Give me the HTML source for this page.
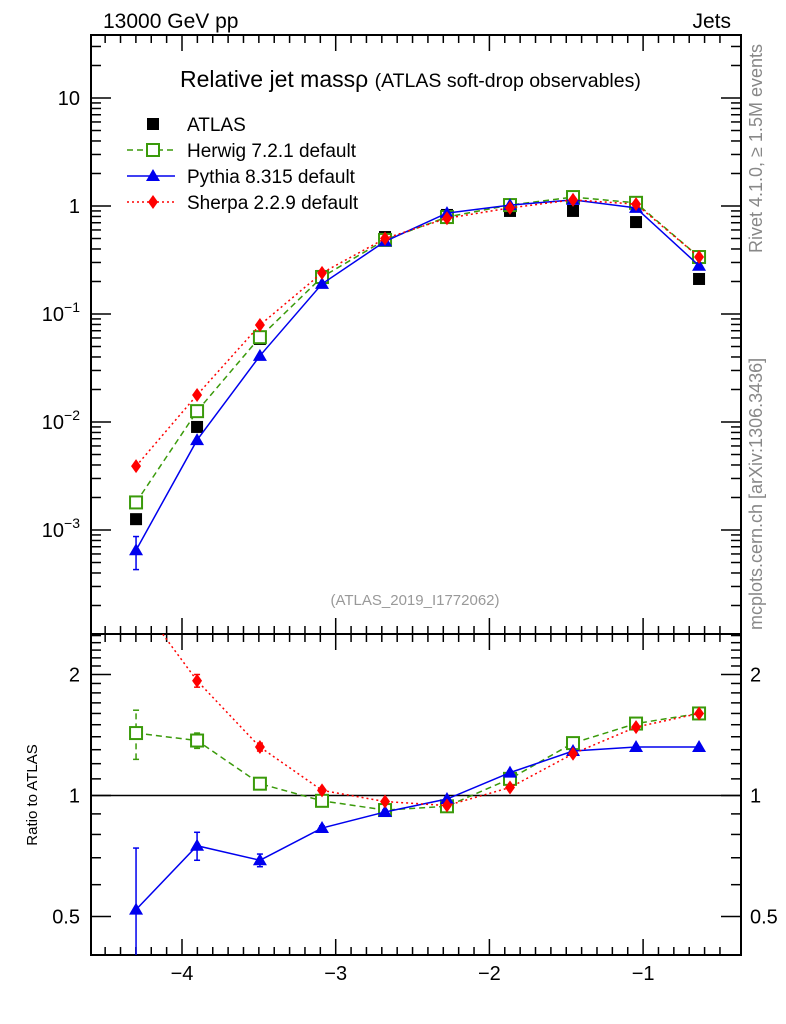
<!DOCTYPE html>
<html><head><meta charset="utf-8"><style>
html,body{margin:0;padding:0;background:#fff;}
svg{display:block;font-family:"Liberation Sans",sans-serif;}
</style></head><body>
<svg id="chart" width="786" height="1024" viewBox="0 0 786 1024">
<text x="103" y="28" font-size="21">13000 GeV pp</text>
<text x="731" y="28" font-size="21" text-anchor="end">Jets</text>
<text x="180" y="87" font-size="23">Relative jet massρ <tspan font-size="19.5">(ATLAS soft-drop observables)</tspan></text>
<text x="415" y="605" font-size="15" fill="#999" text-anchor="middle">(ATLAS_2019_I1772062)</text>
<text transform="translate(762,253) rotate(-90)" font-size="18" fill="#888">Rivet 4.1.0, ≥ 1.5M events</text>
<text transform="translate(762,630) rotate(-90)" font-size="18" fill="#888">mcplots.cern.ch [arXiv:1306.3436]</text>
<text transform="translate(37,795) rotate(-90)" font-size="15" text-anchor="middle">Ratio to ATLAS</text>
<g id="axes"></g>
<g id="marks"></g>
<g id="legend"></g>
</svg>
<script>
const xs = [-4.299,-3.902,-3.493,-3.089,-2.679,-2.276,-1.866,-1.456,-1.046,-0.636];
const atlas = [1.26e-3,0.009,0.0587,0.225,0.516,0.826,0.9,0.9,0.71,0.211];
const herwig = [1.8e-3,0.0126,0.061,0.22,0.485,0.79,1.02,1.21,1.07,0.337];
const pythia = [6.5e-4,0.0068,0.041,0.19,0.47,0.86,1.02,1.14,0.96,0.28];
const sherpa = [3.9e-3,0.0178,0.079,0.24,0.5,0.77,0.96,1.14,1.04,0.337];
const herwigRatio = [1.43,1.37,1.07,0.97,0.92,0.94,1.10,1.35,1.51,1.60];
const pythiaRatio = [0.52,0.75,0.69,0.83,0.91,0.98,1.14,1.29,1.32,1.32];
const sherpaRatio = [3.1,1.93,1.32,1.03,0.966,0.944,1.047,1.27,1.48,1.60];
const pythiaRatioErr = [0.22,0.06,0.025,0.01,0.01,0.01,0.01,0.01,0.01,0.01];
const herwigRatioErr = [0.2,0.06,0.02,0.01,0.01,0.01,0.01,0.01,0.01,0.01];
const sherpaRatioErr = [0.1,0.07,0.03,0.01,0.01,0.01,0.01,0.01,0.01,0.01];
const xTicks = [-4,-3,-2,-1];
const xTickLabels = ["−4","−3","−2","−1"];
const mainYTicks = [-3,-2,-1,0,1];
const ratioTicks = [0.5,1,2];

const NS="http://www.w3.org/2000/svg";
const L=91,R=741,T=35,MB=634,RT=634,RB=955;
const X=v=>182+(v+4)*153.7;
const Y=v=>206-Math.log10(v)*108;
const YR=v=>795.5-Math.log2(v)*121;
function el(tag,attrs,parent){const e=document.createElementNS(NS,tag);for(const k in attrs)e.setAttribute(k,attrs[k]);parent.appendChild(e);return e;}
const axes=document.getElementById('axes'),marks=document.getElementById('marks'),leg=document.getElementById('legend');

const defs=el('defs',{},axes);
const c1=el('clipPath',{id:'cm'},defs);el('rect',{x:L,y:T,width:R-L,height:MB-T},c1);
const c2=el('clipPath',{id:'cr'},defs);el('rect',{x:L,y:RT,width:R-L,height:RB-RT},c2);

let f=el('rect',{x:L,y:T,width:R-L,height:MB-T,fill:'none',stroke:'#000','stroke-width':2},axes);


f=el('rect',{x:L,y:RT,width:R-L,height:RB-RT,fill:'none',stroke:'#000','stroke-width':2},axes);



for(let v=-4.6;v<=-0.4;v+=0.1){const x=X(v);if(x<L||x>R)continue;const major=Math.abs(v-Math.round(v))<1e-6;const len=major?16:8;
 for(const [y0,dir] of [[T,1],[MB,-1],[RT,1],[RB,-1]]){el('line',{x1:x,y1:y0,x2:x,y2:y0+dir*len,stroke:'#000','stroke-width':1.5},axes);}}
xTicks.forEach((v,i)=>{const t=el('text',{x:X(v),y:980,'font-size':20,'text-anchor':'middle'},axes);t.textContent=xTickLabels[i];
 
 });

for(let d=-4;d<=1;d++){for(let m=1;m<10;m++){const y=Y(m*Math.pow(10,d));if(y<T||y>MB)continue;const len=m==1?20:10;
 el('line',{x1:L,y1:y,x2:L+len,y2:y,stroke:'#000','stroke-width':1.5},axes);el('line',{x1:R,y1:y,x2:R-len,y2:y,stroke:'#000','stroke-width':1.5},axes);}}
mainYTicks.forEach(d=>{const y=Y(Math.pow(10,d));const t=el('text',{x:80,y:y+7,'font-size':20,'text-anchor':'end'},axes);
 if(d==0)t.textContent='1';else if(d==1)t.textContent='10';else{t.textContent='10';const s=el('tspan',{dy:-9,'font-size':14},t);s.textContent=String(d).replace('-','−');}
 
 });

for(let v=0.4;v<=2.6;v+=0.1){const y=YR(v);if(y<RT||y>RB)continue;const major=[0.5,1,2].some(m=>Math.abs(m-v)<1e-6);const len=major?20:10;
 el('line',{x1:L,y1:y,x2:L+len,y2:y,stroke:'#000','stroke-width':1.5},axes);el('line',{x1:R,y1:y,x2:R-len,y2:y,stroke:'#000','stroke-width':1.5},axes);}
ratioTicks.forEach(v=>{for(const [x,a] of [[80,'end'],[750,'start']]){const t=el('text',{x:x,y:YR(v)+7,'font-size':20,'text-anchor':a},axes);t.textContent=String(v);
 
 }});
el('line',{x1:L,y1:YR(1),x2:R,y2:YR(1),stroke:'#000','stroke-width':1.5},axes);

const styles={herwig:{c:'#3a9a0a',d:'6,4',m:'sq'},pythia:{c:'#0000ee',d:'',m:'tri'},sherpa:{c:'#ff0000',d:'2,3',m:'dia'}};
function marker(g,type,x,y,c){
 if(type=='sq')return el('rect',{x:x-6,y:y-6,width:12,height:12,fill:'#fff',stroke:c,'stroke-width':2},g);
 if(type=='tri')return el('polygon',{points:`${x},${y-7} ${x-7},${y+5} ${x+7},${y+5}`,fill:c},g);
 if(type=='dia')return el('polygon',{points:`${x},${y-7} ${x-5},${y} ${x},${y+7} ${x+5},${y}`,fill:c},g);
 if(type=='box')return el('rect',{x:x-6,y:y-6,width:12,height:12,fill:c},g);
}
function series(name,vals,yf,clip,errs){
 const s=styles[name];const g=el('g',{'clip-path':`url(#${clip})`},marks);
 
 
 el('polyline',{points:xs.map((x,i)=>X(x)+','+yf(vals[i])).join(' '),fill:'none',stroke:s.c,'stroke-width':1.5,'stroke-dasharray':s.d},g);
 xs.forEach((x,i)=>{if(errs){const y1=yf(vals[i]-errs[i]),y2=yf(vals[i]+errs[i]);
   el('line',{x1:X(x),y1:y1,x2:X(x),y2:y2,stroke:s.c,'stroke-width':1.5,'stroke-dasharray':s.d},g);
   el('line',{x1:X(x)-3,y1:y1,x2:X(x)+3,y2:y1,stroke:s.c,'stroke-width':1.5},g);el('line',{x1:X(x)-3,y1:y2,x2:X(x)+3,y2:y2,stroke:s.c,'stroke-width':1.5},g);}
  const m=marker(g,s.m,X(x),yf(vals[i]),s.c);
  
  });
}
const ga=el('g',{'clip-path':'url(#cm)'},marks);


xs.forEach((x,i)=>{const m=marker(ga,'box',X(x),Y(atlas[i]),'#000');
 
 });
const pErrMain=[2.2e-4,0,0,0,0,0,0,0,0,0];
series('herwig',herwig,Y,'cm');
series('pythia',pythia,Y,'cm',pErrMain);
series('sherpa',sherpa,Y,'cm');
series('herwig',herwigRatio,YR,'cr',herwigRatioErr);
series('pythia',pythiaRatio,YR,'cr',pythiaRatioErr);
series('sherpa',sherpaRatio,YR,'cr',sherpaRatioErr);

const items=[['ATLAS',null],['Herwig 7.2.1 default','herwig'],['Pythia 8.315 default','pythia'],['Sherpa 2.2.9 default','sherpa']];
items.forEach((it,i)=>{const y=124+i*26;const g=el('g',{},leg);
 
 
 if(it[1]){const s=styles[it[1]];el('line',{x1:127,y1:y,x2:175,y2:y,stroke:s.c,'stroke-width':1.5,'stroke-dasharray':s.d},g);marker(g,s.m,153,y,s.c);}
 else marker(g,'box',153,y,'#000');
 const t=el('text',{x:187,y:y+7,'font-size':19},g);t.textContent=it[0];});
</script>
</body></html>
